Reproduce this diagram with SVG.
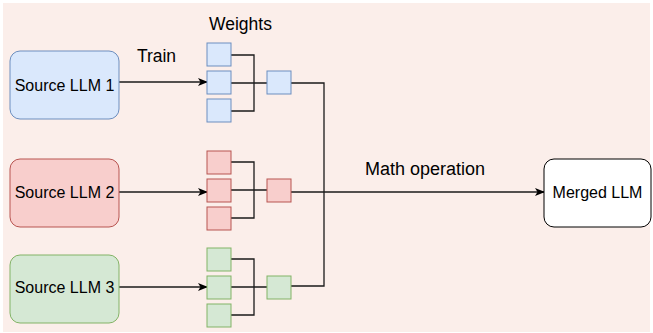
<svg xmlns="http://www.w3.org/2000/svg" width="653" height="333" viewBox="0 0 653 333">
<defs>
<style>
text{font-family:"Liberation Sans",Arial,sans-serif;fill:#000}
.lbl{font-size:16px;text-anchor:middle}
.big{font-size:17.5px;text-anchor:middle}
.ln{fill:none;stroke:#1a1a1a;stroke-width:1.3}
.b{fill:#dae8fc;stroke:#6c8ebf;stroke-width:1}
.r{fill:#f8cecc;stroke:#b85450;stroke-width:1}
.g{fill:#d5e8d4;stroke:#82b366;stroke-width:1}
</style>
<marker id="ah" viewBox="0 0 10 10" refX="9" refY="5" markerWidth="10" markerHeight="10" markerUnits="userSpaceOnUse" orient="auto">
<path d="M0,1 L10,5 L0,9 L2.5,5 Z" fill="#000"/>
</marker>
</defs>
<rect x="3" y="3" width="647" height="329" fill="#fbeeea"/>
<g id="connectors">
<path class="ln" d="M119,82 H207" marker-end="url(#ah)"/>
<path class="ln" d="M119,192 H207" marker-end="url(#ah)"/>
<path class="ln" d="M119,287 H207" marker-end="url(#ah)"/>
<path class="ln" d="M231,55 H254 V111 H231 M231,83 H267"/>
<path class="ln" d="M231,162 H254 V218 H231 M231,190 H267"/>
<path class="ln" d="M231,259 H254 V315 H231 M231,287 H267"/>
<path class="ln" d="M291,83 H324 V286 H291"/>
<path class="ln" d="M291,192 H544" marker-end="url(#ah)"/>
</g>
<g id="src1"><rect class="b" x="10" y="51" width="109" height="68" rx="10"/><text class="lbl" x="64.5" y="91">Source LLM 1</text></g>
<g id="src2"><rect class="r" x="10" y="159" width="109" height="68" rx="10"/><text class="lbl" x="64.5" y="198">Source LLM 2</text></g>
<g id="src3"><rect class="g" x="10" y="255" width="109" height="68" rx="10"/><text class="lbl" x="64.5" y="293">Source LLM 3</text></g>
<g id="w1">
<rect class="b" x="207" y="43" width="24" height="23"/>
<rect class="b" x="207" y="71" width="24" height="23"/>
<rect class="b" x="207" y="99" width="24" height="23"/>
</g>
<g id="w2">
<rect class="r" x="207" y="151" width="24" height="23"/>
<rect class="r" x="207" y="179" width="24" height="23"/>
<rect class="r" x="207" y="207" width="24" height="23"/>
</g>
<g id="w3">
<rect class="g" x="207" y="248" width="24" height="23"/>
<rect class="g" x="207" y="276" width="24" height="23"/>
<rect class="g" x="207" y="304" width="24" height="23"/>
</g>
<g id="c1"><rect class="b" x="267" y="71" width="24" height="23"/></g>
<g id="c2"><rect class="r" x="267" y="179" width="24" height="23"/></g>
<g id="c3"><rect class="g" x="267" y="276" width="24" height="23"/></g>
<g id="merged"><rect x="544" y="159" width="107" height="68" rx="10" fill="#fff" stroke="#000" stroke-width="1"/><text class="lbl" x="597.5" y="198">Merged LLM</text></g>
<text class="big" x="240.5" y="30">Weights</text>
<text class="big" x="156.5" y="62">Train</text>
<text class="big" x="425" y="175" style="font-size:18px">Math operation</text>
</svg>
